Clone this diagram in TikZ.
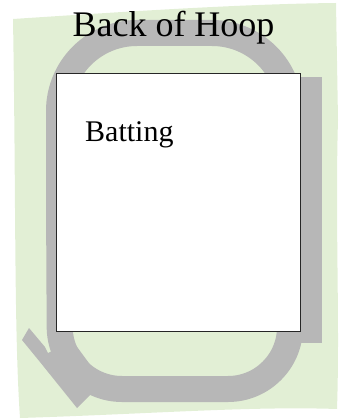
\documentclass[tikz,border=0pt]{standalone}
\usepackage{fontspec}
\setmainfont{Liberation Serif}
\definecolor{lawn}{RGB}{226,239,213}
\definecolor{track}{RGB}{183,183,183}
\begin{document}
\begin{tikzpicture}[x=1pt,y=-1pt,
  boxstyle/.style={draw=black!85,line width=1.1pt,fill=white},
  lbl/.style={inner sep=0pt,anchor=base}]
\useasboundingbox (0,0) rectangle (344,419);
% lawn
\fill[lawn] (13,19) .. controls (120,12) and (240,4) .. (336,3)
  -- (338,120) .. controls (335,220) and (340,320) .. (337,409)
  .. controls (250,406) and (150,414) .. (20,418)
  .. controls (14,330) and (16,200) .. (13,19) -- cycle;
% track loop
\draw[track,line width=26pt] (59,200) [rounded corners=78pt] -- (59,33) -- (290,33)
  [rounded corners=62pt] -- (290,389) -- (60,389) -- cycle;
% right strip
\fill[track] (298,77) rectangle (322,343);
% appendage
\fill[track] (22,340) -- (29,328) -- (45,347) -- (48,353) -- (56,349) -- (72,340)
  -- (105,385) -- (92,393) -- (77,408) -- (40,362) -- cycle;
% box
\node[boxstyle,minimum width=244pt,minimum height=258pt,anchor=north west,inner sep=0pt] (box) at (56,73) {};
\node[lbl,font=\fontsize{36}{40}\selectfont] (title) at (173.5,37) {Back of Hoop};
\node[lbl,anchor=base west,font=\fontsize{30}{34}\selectfont] (batting) at (85,142) {Batting};
\end{tikzpicture}
\end{document}
